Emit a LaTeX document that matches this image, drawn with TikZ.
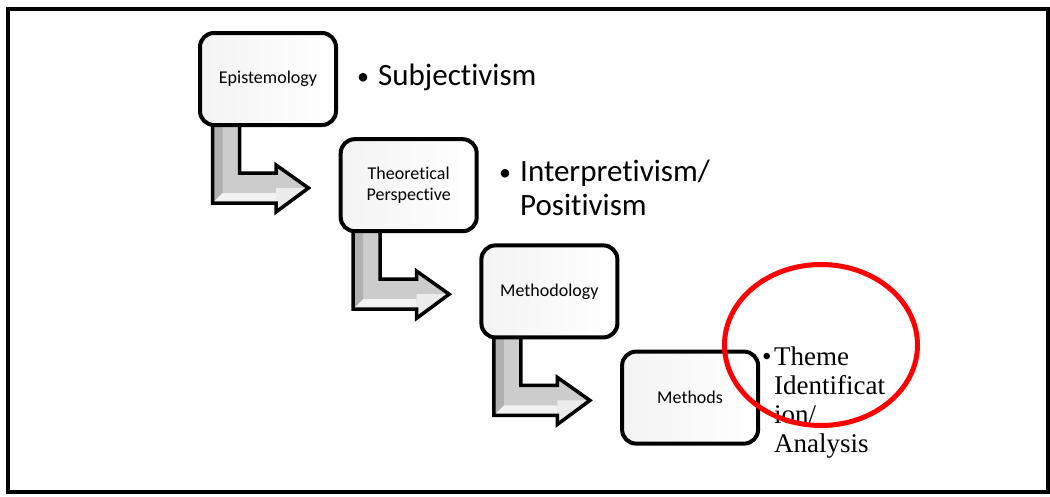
\documentclass[tikz,border=0pt]{standalone}
\usepackage{fontspec}
\setmainfont{Carlito}[Ligatures=NoCommon]
\newfontfamily\tnr{Liberation Serif}
\usetikzlibrary{shapes.geometric,backgrounds,calc}
\newcommand\arrowpath{(14.5,-6) -- (14.5,76) -- (78,76) -- (78,85) -- (110.5,61) -- (78,38) -- (78,46) -- (41.5,46) -- (41.5,-6) -- cycle}
\newcommand\bentarr[1]{%
\begin{scope}[shift={(#1.south west)}]
\fill[gray!40] \arrowpath;
\fill[gray!62] (14.5,-6) -- (14.5,76) -- (24.5,66) -- (24.5,-6) -- cycle;
\fill[gray!10] (14.5,76) -- (78,76) -- (78,66) -- (24.5,66) -- cycle;
\fill[gray!15] (78,61) -- (78,85) -- (110.5,61) -- cycle;
\draw[arrowline] \arrowpath;
\end{scope}}
\newcommand\smallbul{\raisebox{1pt}{\fontsize{24}{24}\selectfont •}}
\begin{document}
\begin{tikzpicture}[x=1pt,y=-1pt,
  stepbox/.style={draw=black, line width=4pt, rounded corners=14pt,
    minimum width=136pt, minimum height=92pt, inner sep=2pt, align=center,
    font=\fontsize{18}{21}\selectfont, left color=gray!9, right color=white},
  arrowline/.style={draw=black, line width=3.5pt, line join=miter},
  bullettext/.style={anchor=base west, inner sep=0pt, font=\fontsize{31}{34}\selectfont},
  ringmark/.style={draw=red, line width=5pt, ellipse, inner sep=0pt}]
\useasboundingbox (0,0) rectangle (1050,496);
\draw[line width=4pt] (7.5,8.5) rectangle (1048,491.5);
\node[stepbox] (b1) at (268,79) {Epistemology};
\node[stepbox] (b2) at (408.7,185.2) {Theoretical\\Perspective};
\node[stepbox] (b3) at (549.4,291.4) {Methodology};
\node[stepbox] (b4) at (690.1,397.6) {Methods};
\begin{scope}[on background layer]
\bentarr{b1}
\bentarr{b2}
\bentarr{b3}
\end{scope}
\node[bullettext] (t1) at (357,85) {\makebox[21pt][l]{\smallbul}Subjectivism};
\node[bullettext] (t2) at (499,181) {\begin{tabular}[t]{@{}l@{}l@{}}\makebox[21pt][l]{\smallbul}&Interpretivism/\\&Positivism\end{tabular}};
\node[bullettext, font=\tnr\fontsize{27}{29}\selectfont] (t4) at (762,365) {\begin{tabular}[t]{@{}l@{}l@{}}\makebox[12pt][l]{•}&Theme\\&Identificat\\&ion/\\&Analysis\end{tabular}};
\node[ringmark, minimum width=193pt, minimum height=161pt] (ell) at (821,345) {};
\end{tikzpicture}
\end{document}
